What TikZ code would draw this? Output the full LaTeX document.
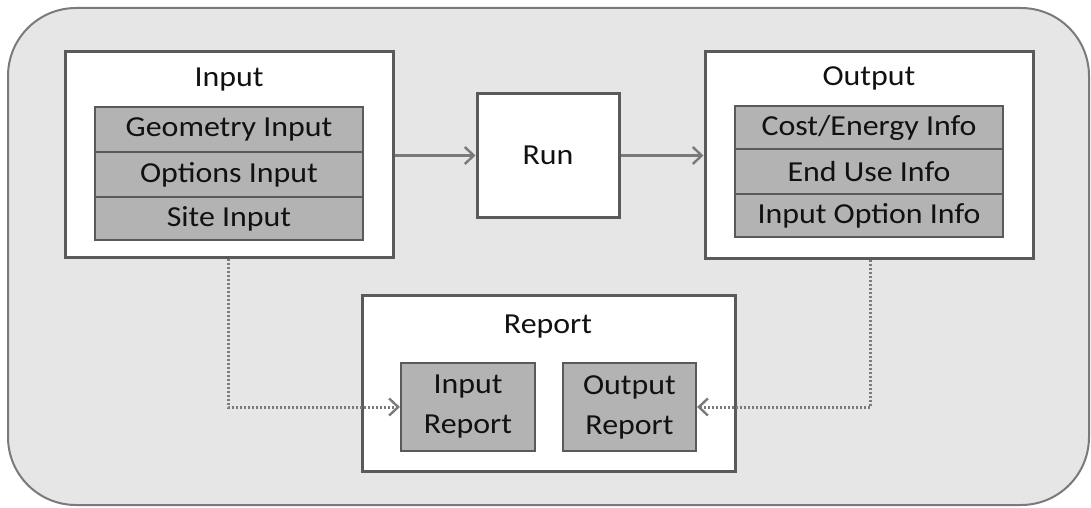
\documentclass[tikz,border=0pt]{standalone}
\usepackage{fontspec}
\setmainfont{Carlito}[FakeStretch=1.1]
\usetikzlibrary{arrows.meta}
\definecolor{bgfill}{HTML}{E6E6E6}
\definecolor{bgline}{HTML}{7A7A7A}
\definecolor{boxline}{HTML}{5A5A5A}
\definecolor{cellfill}{HTML}{B3B3B3}
\definecolor{arrowcol}{HTML}{7A7A7A}
\definecolor{txt}{HTML}{111111}
\begin{document}
\begin{tikzpicture}[x=1pt,y=-1pt,
  font=\fontsize{29}{31}\selectfont, text=txt,
  whitebox/.style={draw=boxline, line width=3pt, fill=white, inner sep=0pt},
  cell/.style={draw=boxline, line width=2.2pt, fill=cellfill, inner sep=0pt, minimum width=268pt},
  title/.style={inner sep=0pt},
  flow/.style={draw=arrowcol, line width=3pt, -{Straight Barb[length=9pt,width=17pt,line width=2.4pt]}},
  dotflow/.style={draw=arrowcol, line width=3pt, dash pattern=on 2pt off 2pt, -{Straight Barb[length=9pt,width=17pt,line width=2.4pt]}}
]
\useasboundingbox (0,0) rectangle (1091,508);
\draw[draw=bgline, line width=2pt, fill=bgfill, rounded corners=68pt] (8,8) rectangle (1089,505);

% Input group
\node[whitebox, minimum width=328pt, minimum height=205pt] (inputbox) at (229,154.5) {};
\node[title] (inputtitle) at (229,80) {Input};
\node[cell, minimum height=45pt] (geom) at (229,129.5) {Geometry Input};
\node[cell, minimum height=45pt] (opt) at (229,174.5) {Options Input};
\node[cell, minimum height=43pt] (site) at (229,218.5) {Site Input};

% Run
\node[whitebox, minimum width=142pt, minimum height=123pt] (run) at (548,155.5) {Run};

% Output group
\node[whitebox, minimum width=328pt, minimum height=206pt] (outputbox) at (869,155) {};
\node[title] (outputtitle) at (869,78) {Output};
\node[cell, minimum height=43pt] (cost) at (869,127.5) {Cost/Energy Info};
\node[cell, minimum height=45pt] (enduse) at (869,171.5) {End Use Info};
\node[cell, minimum height=43pt] (inopt) at (869,215.5) {Input Option Info};

% Report group
\node[whitebox, minimum width=373pt, minimum height=176pt] (report) at (548.5,383) {};
\node[title] (reporttitle) at (548,327) {Report};
\node[cell, minimum width=134pt, minimum height=88pt, align=center] (inrep) at (468,407) {Input\\[9pt]Report};
\node[cell, minimum width=133pt, minimum height=88pt, align=center] (outrep) at (629.5,407) {Output\\[9pt]Report};

% Connectors
\draw[flow] (run.west -| inputbox.east) -- (run.west);
\draw[flow] (run.east) -- (run.east -| outputbox.west);
\coordinate (c1) at (228,407);
\coordinate (c2) at (870,407);
\draw[dotflow] (c1 |- inputbox.south) -- (c1) -- (inrep.west);
\draw[dotflow] (c2 |- outputbox.south) -- (c2) -- (outrep.east);
\end{tikzpicture}
\end{document}
